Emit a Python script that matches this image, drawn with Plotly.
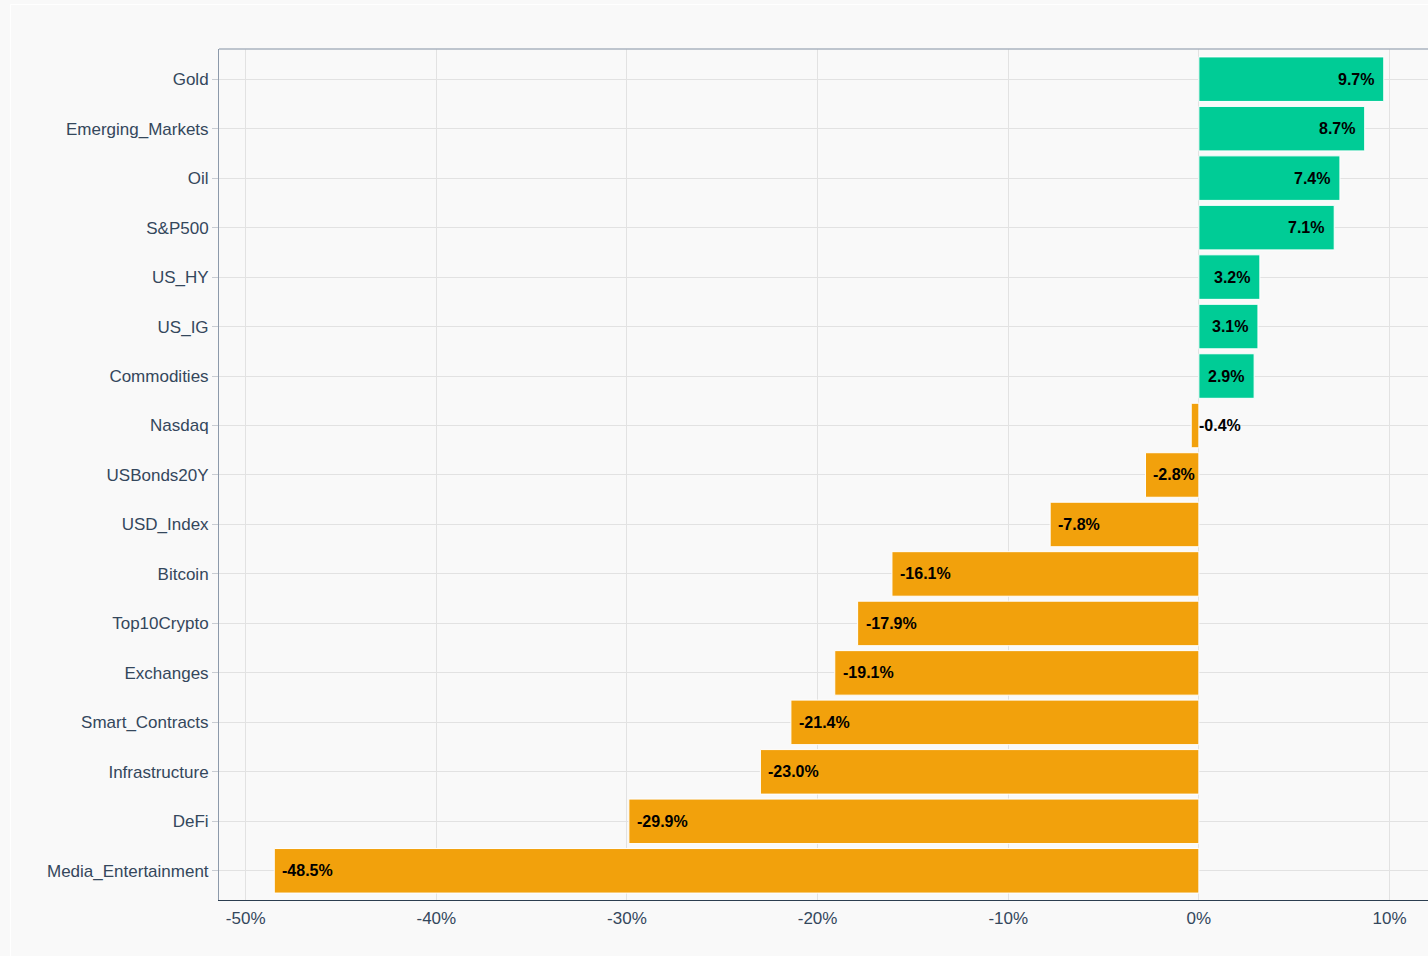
import plotly.graph_objects as go

categories = ["Gold", "Emerging_Markets", "Oil", "S&P500", "US_HY", "US_IG", "Commodities",
              "Nasdaq", "USBonds20Y", "USD_Index", "Bitcoin", "Top10Crypto", "Exchanges",
              "Smart_Contracts", "Infrastructure", "DeFi", "Media_Entertainment"]
values = [9.7, 8.7, 7.4, 7.1, 3.2, 3.1, 2.9, -0.4, -2.8, -7.8, -16.1, -17.9, -19.1,
          -21.4, -23.0, -29.9, -48.5]
x_ticks = [-50, -40, -30, -20, -10, 0, 10]
x_tick_labels = ["-50%", "-40%", "-30%", "-20%", "-10%", "0%", "10%"]

GREEN = "#00cc96"
ORANGE = "#f2a10c"
colors = [GREEN if v >= 0 else ORANGE for v in values]
FONT = "Liberation Sans, Arial, sans-serif"

fig = go.Figure(go.Bar(
    x=values, y=categories, orientation="h",
    marker=dict(color=colors, line=dict(color="white", width=1)),
    hoverinfo="skip",
))

annotations = []
for cat, v in zip(categories, values):
    annotations.append(dict(
        x=v, y=cat, xref="x", yref="y", text=f"<b>{v:.1f}%</b>", showarrow=False,
        xanchor="right" if v >= 0 else "left", xshift=-8 if v >= 0 else 6,
        font=dict(family=FONT, size=16, color="black"),
    ))

GRID = "#e2e2e2"
TICKC = "#34475c"
fig.update_layout(
    width=1428, height=956,
    margin=dict(l=219, r=0, t=49, b=56),
    paper_bgcolor="#f9f9f9", plot_bgcolor="#f9f9f9",
    bargap=0.1, showlegend=False,
    font=dict(family=FONT, size=17, color=TICKC),
    annotations=annotations,
    xaxis=dict(range=[-51.4, 12.02], tickvals=x_ticks, ticktext=x_tick_labels,
               showgrid=True, gridcolor=GRID, zeroline=False,
               showline=True, linecolor="#2c3e50", linewidth=1, ticks="",
               ticklabelstandoff=3,
               tickfont=dict(size=17, color=TICKC)),
    yaxis=dict(categoryorder="array", categoryarray=categories,
               range=[16.59, -0.61], showgrid=True, gridcolor=GRID, zeroline=False,
               showline=True, linecolor="#8c99aa", linewidth=1,
               ticks="outside", ticklen=6, tickcolor="#c8ccd2",
               tickfont=dict(size=17, color=TICKC)),
    shapes=[
        dict(type="line", xref="paper", yref="paper", x0=0, x1=1, y0=1, y1=1,
             line=dict(color="#aab3bf", width=1.5)),
        dict(type="line", xref="paper", yref="paper", x0=-0.17246, x1=1.1,
             y0=1.05229, y1=1.05229, line=dict(color="white", width=1.2)),
        dict(type="line", xref="paper", yref="paper", x0=-0.17246, x1=-0.17246,
             y0=1.05229, y1=-0.2, line=dict(color="white", width=1.2)),
    ],
)

fig.write_html("out.html")
